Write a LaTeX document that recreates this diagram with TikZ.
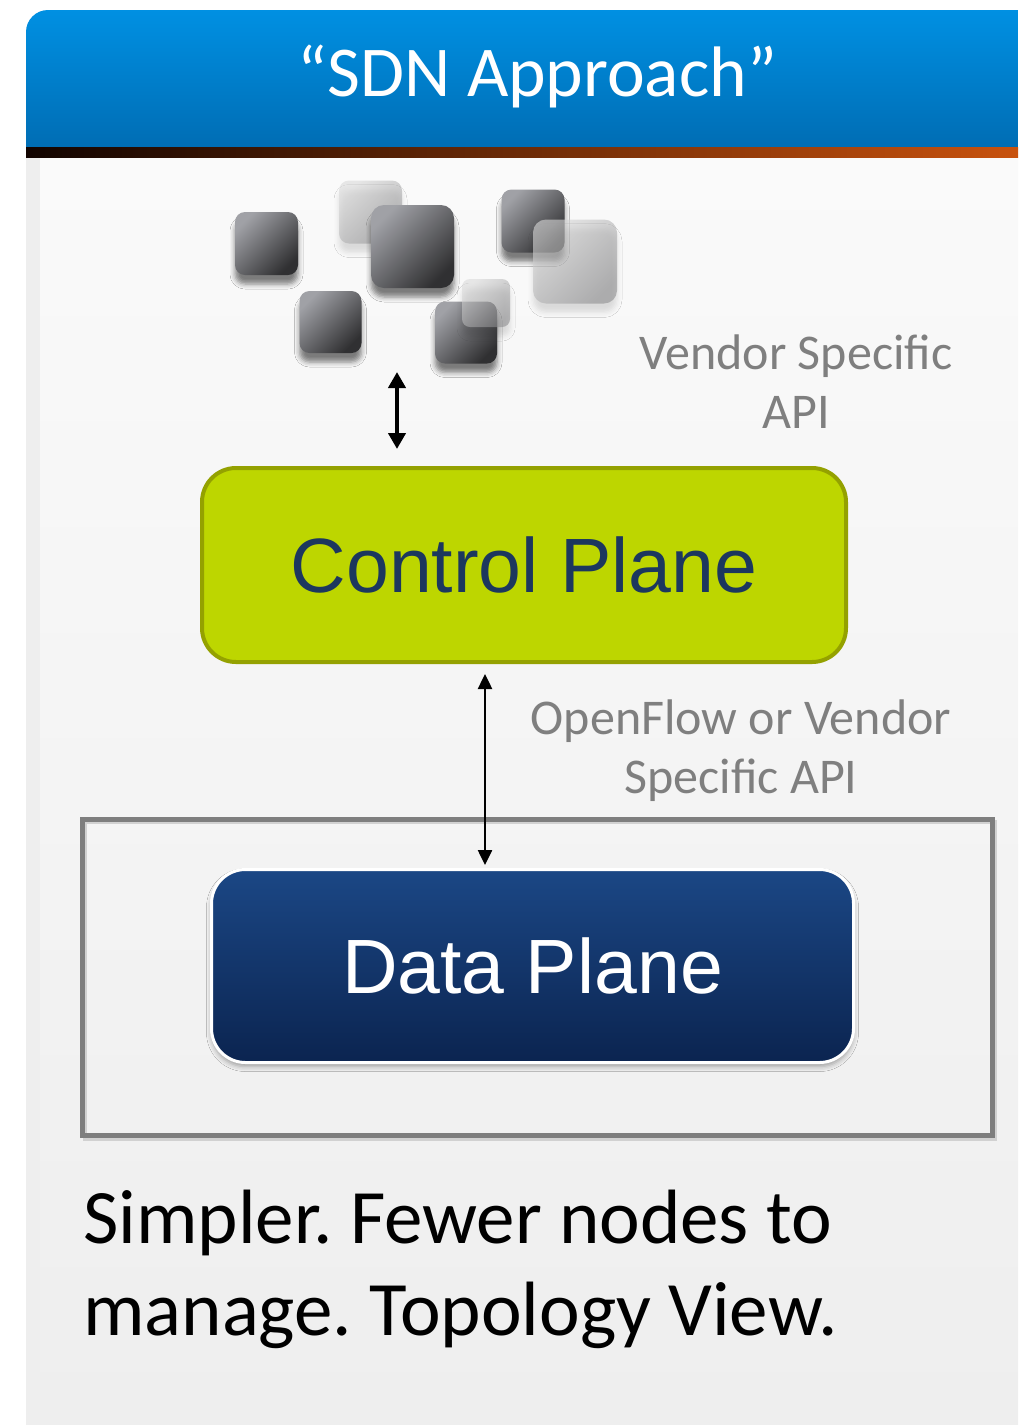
\documentclass[tikz,border=0pt]{standalone}
\usepackage{fontspec}
\setmainfont{Carlito}
\newfontfamily\arialfont{Liberation Sans}
\usetikzlibrary{arrows.meta,shadows.blur}
\frenchspacing

\definecolor{hdrtop}{HTML}{0090E2}
\definecolor{hdrbot}{HTML}{006DB4}
\definecolor{barl}{HTML}{120400}
\definecolor{barr}{HTML}{C8520E}
\definecolor{bodytop}{HTML}{FAFAFA}
\definecolor{bodybot}{HTML}{EEEEEE}
\definecolor{cubelt}{HTML}{A0A1A6}
\definecolor{cubedk}{HTML}{303032}
\definecolor{ghostlt}{HTML}{DADADA}
\definecolor{ghostdk}{HTML}{8E8E90}
\definecolor{cpfill}{HTML}{BDD600}
\definecolor{cpline}{HTML}{94A100}
\definecolor{cptext}{HTML}{1C375E}
\definecolor{dptop}{HTML}{1B4785}
\definecolor{dpbot}{HTML}{0B2450}
\definecolor{labelgray}{HTML}{7F7F7F}
\definecolor{framegray}{HTML}{7E7E7E}

\tikzset{
  cube/.style={rounded corners=10pt, inner sep=0pt, top color=cubelt,
    bottom color=cubedk, shading angle=45,
    blur shadow={shadow xshift=0pt, shadow yshift=-9pt,
      shadow blur radius=5pt, shadow opacity=50}},
  ghost/.style={rounded corners=10pt, inner sep=0pt, top color=ghostlt,
    bottom color=ghostdk, shading angle=45, fill opacity=0.6,
    blur shadow={shadow xshift=0pt, shadow yshift=-9pt,
      shadow blur radius=5pt, shadow opacity=20}},
  plane/.style={rounded corners=34pt, inner sep=0pt,
    font=\arialfont\fontsize{77}{88}\selectfont},
  apilabel/.style={text=labelgray, align=center, inner sep=0pt,
    font=\fontsize{50}{59}\selectfont},
  twoway/.style={{Triangle[width=17pt,length=16pt]}-{Triangle[width=17pt,length=16pt]}, line width=4pt},
  twowaythin/.style={{Triangle[width=14pt,length=15pt]}-{Triangle[width=14pt,length=15pt]}, line width=2.5pt},
}

\begin{document}
\begin{tikzpicture}[x=1pt,y=-1pt]
\useasboundingbox (0,0) rectangle (1018,1425);
\fill[white] (0,0) rectangle (1018,1425);

% slide body
\fill[bodybot] (26,157) rectangle (40,1425);
\shade[top color=bodytop, bottom color=bodybot] (40,157) rectangle (1018,1425);

% title bar
\shade[top color=hdrtop, bottom color=hdrbot]
  (26,147) [rounded corners=22pt]-- (26,10) [sharp corners]-- (1018,10) -- (1018,147) -- cycle;
\shade[left color=barl, right color=barr] (26,147) rectangle (1018,157);
\node[text=white, anchor=base, inner sep=0pt, font=\fontsize{71.5}{80}\selectfont]
  (title) at (537.5,96) {“SDN Approach”};

% cluster of devices
\node[cube, minimum size=63pt] (devA) at (266.5,243.5) {};
\node[cube, minimum size=62pt] (devD) at (330.5,322) {};
\node[ghost, minimum size=63pt] (devB) at (370.5,212) {};
\node[cube, minimum size=83pt, rounded corners=13pt] (devC) at (412.5,246.5) {};
\node[cube, minimum size=62pt] (devF) at (466,332.5) {};
\node[ghost, minimum size=48pt, rounded corners=8pt] (devE) at (486,303) {};
\node[cube, minimum size=63pt] (devG) at (533,221) {};
\node[ghost, minimum size=84pt, rounded corners=13pt] (devH) at (575,261.5) {};

% control plane
\node[plane, draw=cpline, line width=4pt, fill=cpfill, text=cptext,
  minimum width=644pt, minimum height=194pt] (cp) at (524,565) {Control Plane};

% switch frame and data plane
\draw[black!18, line width=4pt] (85,822) rectangle (995,1139);
\draw[framegray, line width=5pt] (82,819) rectangle (992,1135);
\node[plane, draw=white, line width=3pt, top color=dptop, bottom color=dpbot,
  text=white, minimum width=642pt, minimum height=193pt,
  blur shadow={shadow xshift=0pt, shadow yshift=-4pt, shadow blur radius=5pt, shadow opacity=35}]
  (dp) at (532.5,966) {Data Plane};

% interfaces
\coordinate (apiTop) at (397,372);
\coordinate (apiBot) at (397,449);
\draw[twoway] (apiTop) -- (apiBot);

\coordinate (ofx) at (485,0);
\draw[twowaythin, shorten <=10pt, shorten >=3pt] (cp.south -| ofx) -- (dp.north -| ofx);

\node[apilabel, anchor=base] (vapi) at (796,428) {Vendor Specific\\API};
\node[apilabel, anchor=base] (ofapi) at (741,793) {OpenFlow or Vendor\\Specific API};

% summary
\node[anchor=base west, inner sep=0pt, align=left, font=\fontsize{77}{92}\selectfont]
  (summary) at (83,1335) {Simpler. Fewer nodes to\\manage. Topology View.};
\end{tikzpicture}
\end{document}
